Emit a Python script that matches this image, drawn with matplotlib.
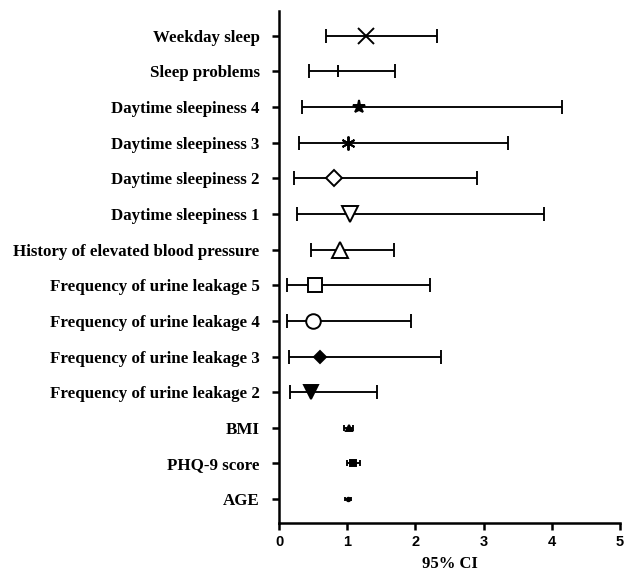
import matplotlib.pyplot as plt
import numpy as np

# Variables (top to bottom) with odds ratios and 95% CI
labels = [
    "Weekday sleep",
    "Sleep problems",
    "Daytime sleepiness 4",
    "Daytime sleepiness 3",
    "Daytime sleepiness 2",
    "Daytime sleepiness 1",
    "History of elevated blood pressure",
    "Frequency of urine leakage 5",
    "Frequency of urine leakage 4",
    "Frequency of urine leakage 3",
    "Frequency of urine leakage 2",
    "BMI",
    "PHQ-9 score",
    "AGE",
]
estimate = [1.27, 0.86, 1.17, 1.01, 0.81, 1.04, 0.89, 0.53, 0.50, 0.60, 0.47, 1.02, 1.09, 1.01]
ci_low = [0.69, 0.44, 0.33, 0.30, 0.22, 0.27, 0.47, 0.12, 0.12, 0.15, 0.16, 0.95, 1.00, 0.97]
ci_high = [2.32, 1.70, 4.15, 3.36, 2.90, 3.88, 1.68, 2.22, 1.93, 2.37, 1.43, 1.08, 1.19, 1.06]
x_ticks = [0, 1, 2, 3, 4, 5]

# marker, size, filled, capsize
styles = [
    ("x", 11, False, 4.7),
    ("|", 9, True, 4.7),
    ("*", 9.5, True, 4.7),
    ((6, 2, 0), 10, True, 4.7),
    ("D", 8.5, False, 4.7),
    ("v", 11, False, 4.7),
    ("^", 11, False, 4.7),
    ("s", 10, False, 4.7),
    ("o", 10.5, False, 4.7),
    ("D", 6.5, True, 4.7),
    ("v", 10, True, 4.7),
    ("^", 4.5, True, 2),
    ("s", 4.5, True, 2.2),
    ("o", 2.5, True, 1.2),
]

fig = plt.figure(figsize=(6.27, 5.73), dpi=100)
ax = fig.add_axes([0.445, 0.0873, 0.544, 0.894])

n = len(labels)
ypos = np.arange(n)[::-1]

for i in range(n):
    m, ms, filled, cs = styles[i]
    ax.errorbar(
        estimate[i], ypos[i],
        xerr=[[estimate[i] - ci_low[i]], [ci_high[i] - estimate[i]]],
        fmt="none", ecolor="black", elinewidth=1.35, capsize=cs, capthick=1.35,
    )
    ax.plot(
        estimate[i], ypos[i], marker=m, markersize=ms, linestyle="none",
        markerfacecolor="black" if filled else "white",
        markeredgecolor="black", markeredgewidth=1.4, zorder=3,
    )

ax.set_xlim(0, 5)
ax.set_ylim(-0.67, n - 1 + 0.7)
ax.set_xticks(x_ticks)
ax.set_xticklabels([str(t) for t in x_ticks], fontfamily="Liberation Sans",
                   fontweight="bold", fontsize=10.5)
ax.set_yticks(ypos)
ax.set_yticklabels(labels, fontfamily="Liberation Serif", fontweight="bold",
                   fontsize=12.2)
ax.set_xlabel("95% CI", fontfamily="Liberation Serif", fontweight="bold",
              fontsize=12, labelpad=5)

for side in ("top", "right"):
    ax.spines[side].set_visible(False)
for side in ("left", "bottom"):
    ax.spines[side].set_linewidth(1.8)
ax.tick_params(axis="both", width=1.8, length=5, direction="out")
ax.tick_params(axis="y", pad=9)

fig.savefig("out.png", dpi=100)
